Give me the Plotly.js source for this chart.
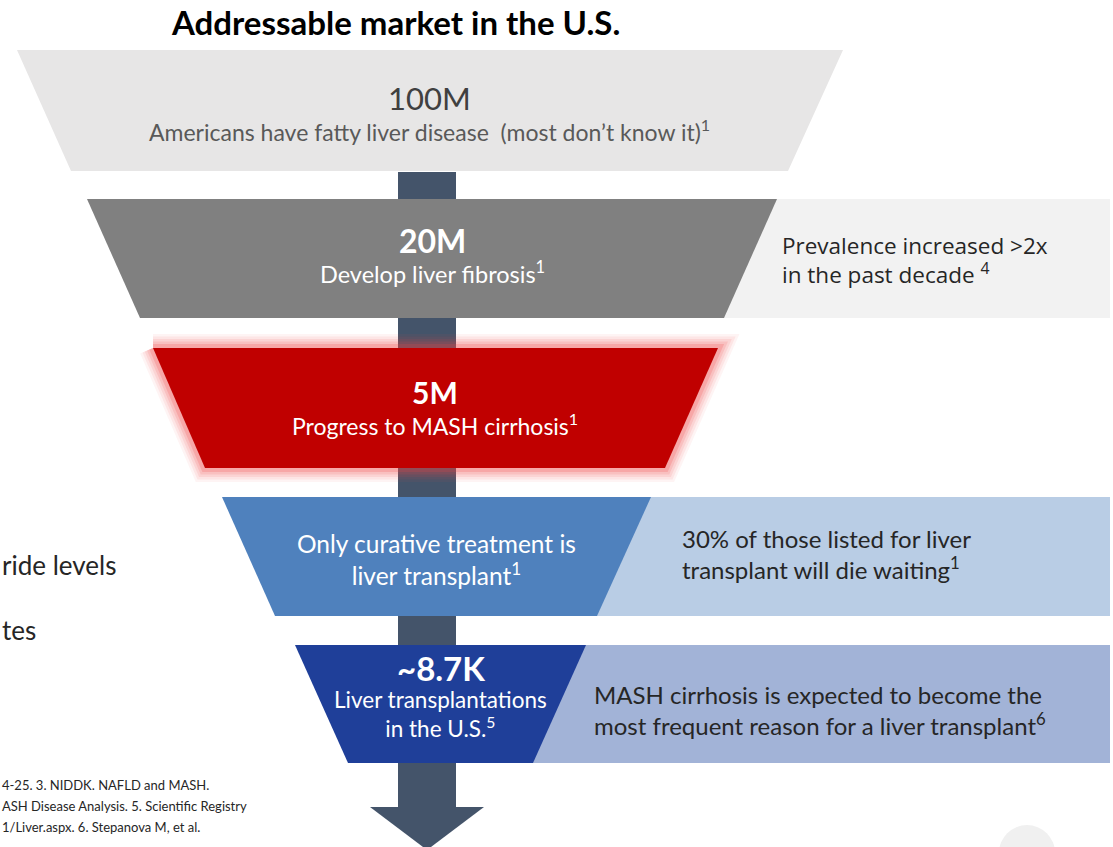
<!DOCTYPE html>
<html>
<head>
<meta charset="utf-8">
<script src="https://cdn.plot.ly/plotly-3.0.1.min.js"></script>
<style>
html,body{margin:0;padding:0;background:#ffffff;overflow:hidden;}
#chart{width:1113px;height:847px;}
</style>
</head>
<body>
<div id="chart"></div>
<script>
// ---- Data ----
const chartTitle = "Addressable market in the U.S.";
const stageValues = ["100M", "20M", "5M", "", "~8.7K"];
const stageLabels = [
  "Americans have fatty liver disease  (most don\u2019t know it)<sup>1</sup>",
  "Develop liver fibrosis<sup>1</sup>",
  "Progress to MASH cirrhosis<sup>1</sup>",
  "Only curative treatment is<br>liver transplant<sup>1</sup>",
  "Liver transplantations<br>in the U.S.<sup>5</sup>"
];
const sideNotes = [
  "",
  "Prevalence increased >2x<br>in the past decade <sup>4</sup>",
  "",
  "30% of those listed for liver<br>transplant will die waiting<sup>1</sup>",
  "MASH cirrhosis is expected to become the<br>most frequent reason for a liver transplant<sup>6</sup>"
];
const leftFragments = ["ride levels", "tes"];
const footnoteLines = [
  "4-25. 3. NIDDK. NAFLD and MASH.",
  "ASH Disease Analysis. 5. Scientific Registry",
  "1/Liver.aspx. 6. Stepanova M, et al."
];

// ---- Layout geometry & styles (pixels in a 1113x847 frame) ----
const geom = [
  {top: 50,  bot: 171, tl: 17,  tr: 843, bl: 71,  br: 788},
  {top: 199, bot: 318, tl: 87,  tr: 777, bl: 140, br: 724},
  {top: 348, bot: 468, tl: 153, tr: 718, bl: 205, br: 665},
  {top: 497, bot: 616, tl: 222, tr: 651, bl: 275, br: 597},
  {top: 645, bot: 763, tl: 295, tr: 586, bl: 348, br: 533}
];
const fills = ["#e7e6e6", "#808080", "#c00000", "#4f81bd", "#1f3f99"];
const panelFills = [null, "#f2f2f2", null, "#b9cde5", "#a2b3d7"];
const valueColors = ["#404040", "#ffffff", "#ffffff", "#ffffff", "#ffffff"];
const labelColors = ["#595959", "#ffffff", "#ffffff", "#ffffff", "#ffffff"];
const arrowColor = "#44546a";
const stem = {x0: 398, x1: 456, y0: 172, y1: 808};
const head = {xl: 370, xr: 484, y: 807, tipY: 850, tipX: 427};

const traces = [];
const shapes = [];
const annotations = [];

function poly(xs, ys, color, extra) {
  return Object.assign({
    x: xs, y: ys, mode: "lines", fill: "toself", fillcolor: color,
    line: {width: 0, color: color}, hoverinfo: "skip", showlegend: false, type: "scatter"
  }, extra || {});
}

// Side panels
geom.forEach((g, i) => {
  if (!panelFills[i]) return;
  const cx = (g.tl + g.tr) / 2;
  traces.push(poly([cx, 1110, 1110, cx, cx], [g.top, g.top, g.bot, g.bot, g.top], panelFills[i]));
});

// Arrow stem and head
traces.push(poly([stem.x0, stem.x1, stem.x1, stem.x0, stem.x0], [stem.y0, stem.y0, stem.y1, stem.y1, stem.y0], arrowColor));
traces.push(poly([head.xl, head.xr, head.tipX, head.xl], [head.y, head.y, head.tipY, head.y], arrowColor));

// Glow for the highlighted stage
(function () {
  const g = geom[2];
  const xs = [g.tl, g.tr, g.br, g.bl, g.tl];
  const ys = [g.top, g.top, g.bot, g.bot, g.top];
  [[28, 0.06], [23, 0.08], [18, 0.10], [13, 0.14], [8, 0.2]].forEach(([w, a]) => {
    traces.push({x: xs, y: ys, mode: "lines", type: "scatter", hoverinfo: "skip", showlegend: false,
      line: {width: w, color: "rgba(240,70,70," + a + ")", shape: "linear"}});
  });
})();

// Funnel stages
geom.forEach((g, i) => {
  traces.push(poly([g.tl, g.tr, g.br, g.bl, g.tl], [g.top, g.top, g.bot, g.bot, g.top], fills[i]));
});

// Title
annotations.push({x: 395, y: 22, xref: "x", yref: "y", text: "<b>" + chartTitle + "</b>", showarrow: false,
  font: {family: "Lato, sans-serif", size: 33, color: "#000000"}});

// Stage texts
const valueY = [98, 240, 392, null, 668];
const labelY = [130, 272, 424, 559, 714];
const valueSizes = [31, 32, 30, 0, 33];
const labelSizes = [23, 23.5, 23, 24.5, 22.5];
const valueBold = [false, true, true, true, true];
geom.forEach((g, i) => {
  const cx = (g.tl + g.tr + g.bl + g.br) / 4;
  if (stageValues[i]) {
    const v = valueBold[i] ? "<b>" + stageValues[i] + "</b>" : stageValues[i];
    annotations.push({x: cx, y: valueY[i], xref: "x", yref: "y", text: v, showarrow: false,
      font: {family: "Lato, sans-serif", size: valueSizes[i], color: valueColors[i]}});
  }
  annotations.push({x: cx, y: labelY[i], xref: "x", yref: "y", text: stageLabels[i], showarrow: false,
    font: {family: "Lato, sans-serif", size: labelSizes[i], color: labelColors[i]}});
});

// Side notes
const noteX = [null, 780, null, 680, 592];
const noteY = [null, 260, null, 554, 710];
const noteSizes = [0, 22.5, 0, 24, 24];
const noteFonts = [null, "Open Sans, sans-serif", null, "Lato, sans-serif", "Lato, sans-serif"];
sideNotes.forEach((t, i) => {
  if (!t) return;
  annotations.push({x: noteX[i], y: noteY[i], xref: "x", yref: "y", xanchor: "left", align: "left", text: t,
    showarrow: false, font: {family: noteFonts[i], size: noteSizes[i], color: "#262626"}});
});

// Left fragments (cropped slide text)
const leftY = [565, 630];
leftFragments.forEach((t, i) => {
  annotations.push({x: 0, y: leftY[i], xref: "x", yref: "y", xanchor: "left", text: t, showarrow: false,
    font: {family: "Lato, sans-serif", size: 26, color: "#262626"}});
});

// Footnotes
const footY = [785, 806, 827];
footnoteLines.forEach((t, i) => {
  annotations.push({x: 0, y: footY[i], xref: "x", yref: "y", xanchor: "left", text: t, showarrow: false,
    font: {family: "Lato, sans-serif", size: 13, color: "#262626"}});
});

// Faint circle bottom right
shapes.push({type: "circle", xref: "x", yref: "y", x0: 999, x1: 1055, y0: 825, y1: 881,
  fillcolor: "#f0f0f0", line: {width: 0}, layer: "below"});

const layout = {
  width: 1113, height: 847, autosize: false,
  margin: {l: 0, r: 0, t: 0, b: 0, pad: 0},
  paper_bgcolor: "#ffffff", plot_bgcolor: "#ffffff",
  xaxis: {range: [0, 1113], visible: false, fixedrange: true},
  yaxis: {range: [847, 0], visible: false, fixedrange: true},
  showlegend: false,
  shapes: shapes,
  annotations: annotations
};

Plotly.newPlot("chart", traces, layout, {staticPlot: true, displayModeBar: false});
</script>
</body>
</html>
